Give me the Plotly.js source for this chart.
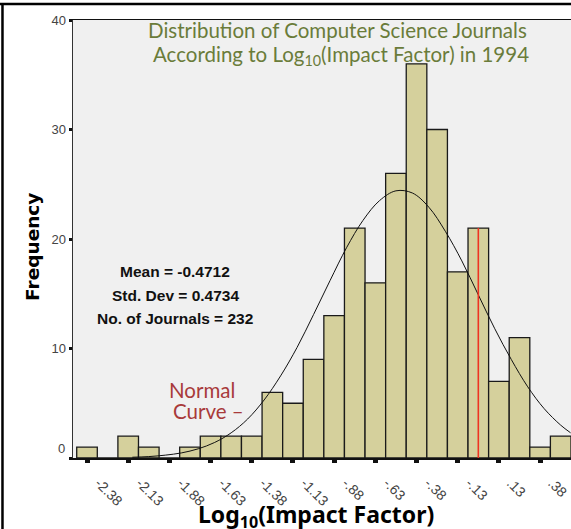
<!DOCTYPE html>
<html>
<head>
<meta charset="utf-8">
<script src="https://cdn.plot.ly/plotly-3.0.1.min.js"></script>
<style>
  html, body { margin: 0; padding: 0; background: #ffffff; }
  #chart { width: 571px; height: 529px; }
</style>
</head>
<body>
<div id="chart"></div>
<script>
// Bin centers (bin width 0.125) of Log10(Impact Factor)
const binCenters = [-2.375, -2.25, -2.125, -2.0, -1.875, -1.75, -1.625, -1.5, -1.375, -1.25, -1.125, -1.0,
                    -0.875, -0.75, -0.625, -0.5, -0.375, -0.25, -0.125, 0.0, 0.125, 0.25, 0.375, 0.5];
// Frequencies (total 232)
const frequencies = [1, 0, 2, 1, 0, 1, 2, 2, 2, 6, 5, 9,
                     13, 21, 16, 26, 36, 30, 17, 21, 7, 11, 1, 2];

// Normal curve
const curveX = [-2.1, -2.0, -1.9, -1.8, -1.7, -1.6, -1.5, -1.4, -1.3, -1.2, -1.1, -1.0, -0.9, -0.8, -0.7,
                -0.6, -0.5, -0.4, -0.3, -0.2, -0.1, 0.0, 0.1, 0.2, 0.3, 0.4, 0.5, 0.56];
const curveY = [0.07, 0.13, 0.26, 0.47, 0.84, 1.42, 2.3, 3.56, 5.3, 7.5, 10.1, 13.1, 16.2, 19.2, 21.7,
                23.5, 24.4, 24.2, 22.9, 20.7, 18.0, 14.9, 11.8, 9.0, 6.5, 4.5, 3.0, 2.3];

// Red marker line
const redLineX = [0, 0];
const redLineY = [0, 21];

// Tick labels
const xTickVals = [-2.375, -2.125, -1.875, -1.625, -1.375, -1.125, -0.875, -0.625, -0.375, -0.125, 0.125, 0.375];
const xTickText = ['-2.38', '-2.13', '-1.88', '-1.63', '-1.38', '-1.13', '-.88', '-.63', '-.38', '-.13', '.13', '.38'];
const yTickVals = [0, 10, 20, 30, 40];
const yTickText = ['', '10', '20', '30', '40'];

const statsLines = ['Mean = -0.4712', 'Std. Dev = 0.4734', 'No. of Journals = 232'];

const traces = [
  {
    type: 'bar',
    x: binCenters,
    y: frequencies,
    width: 0.125,
    marker: { color: '#d5d09c', line: { color: '#1a1a1a', width: 1.3 } },
    hoverinfo: 'x+y'
  },
  {
    type: 'scatter',
    mode: 'lines',
    x: curveX,
    y: curveY,
    line: { color: '#111111', width: 1, shape: 'spline' },
    hoverinfo: 'skip'
  },
  {
    type: 'scatter',
    mode: 'lines',
    x: redLineX,
    y: redLineY,
    line: { color: '#ee3322', width: 1.6 },
    hoverinfo: 'skip'
  }
];

const titleFont = { family: 'Lato, "Open Sans", sans-serif', size: 20.5, color: '#6a7c3a' };
const statFont = { family: '"Liberation Sans", Arial, sans-serif', size: 15.5, color: '#111111', weight: 'bold' };
const redFont = { family: 'Lato, "Open Sans", sans-serif', size: 20.5, color: '#a83a3a' };
const axisTitleFont = { family: '"Noto Sans", sans-serif', size: 23, color: '#000000', weight: 'bold' };

const annotations = [
  { xref: 'paper', yref: 'paper', x: 0.532, y: 0.977, text: 'Distribution of Computer Science Journals',
    showarrow: false, font: titleFont, xanchor: 'center', yanchor: 'middle' },
  { xref: 'paper', yref: 'paper', x: 0.538, y: 0.918, text: 'According to Log<sub>10</sub>(Impact Factor) in 1994',
    showarrow: false, font: titleFont, xanchor: 'center', yanchor: 'middle' },
  { xref: 'paper', yref: 'paper', x: 0.205, y: 0.4247, text: statsLines[0], showarrow: false, font: statFont, xanchor: 'center', yanchor: 'middle' },
  { xref: 'paper', yref: 'paper', x: 0.205, y: 0.372, text: statsLines[1], showarrow: false, font: statFont, xanchor: 'center', yanchor: 'middle' },
  { xref: 'paper', yref: 'paper', x: 0.205, y: 0.3196, text: statsLines[2], showarrow: false, font: statFont, xanchor: 'center', yanchor: 'middle' },
  { xref: 'paper', yref: 'paper', x: 0.259, y: 0.155, text: 'Normal', showarrow: false,
    font: redFont, xanchor: 'center', yanchor: 'middle' },
  { xref: 'paper', yref: 'paper', x: 0.273, y: 0.107, text: 'Curve –', showarrow: false,
    font: redFont, xanchor: 'center', yanchor: 'middle' },
  { xref: 'paper', yref: 'paper', x: 0.488, y: -0.1324, text: 'Log<sub>10</sub>(Impact Factor)', showarrow: false,
    font: axisTitleFont, xanchor: 'center', yanchor: 'middle' },
  { xref: 'paper', yref: 'paper', x: 0.488, y: 1.0355, text: 'Log<sub>10</sub>(Impact Factor)', showarrow: false,
    font: axisTitleFont, xanchor: 'center', yanchor: 'bottom' },
  { xref: 'paper', yref: 'paper', x: -0.0803, y: 0.482, text: 'Frequency', showarrow: false, textangle: -90,
    font: { family: '"DejaVu Sans", sans-serif', size: 18.5, color: '#000000', weight: 'bold' }, xanchor: 'center', yanchor: 'middle' },
  { xref: 'paper', yref: 'y', x: -0.012, y: 0, yshift: 10, text: '0', showarrow: false,
    font: { family: '"Liberation Sans", Arial, sans-serif', size: 13, color: '#444444' }, xanchor: 'right', yanchor: 'middle' }
];

const layout = {
  width: 571,
  height: 529,
  margin: { l: 73, r: 0, t: 20, b: 71, pad: 0 },
  paper_bgcolor: '#ffffff',
  plot_bgcolor: '#f0f0f0',
  showlegend: false,
  bargap: 0,
  xaxis: {
    range: [-2.46, 0.5625],
    tickmode: 'array',
    tickvals: xTickVals,
    ticktext: xTickText,
    tickangle: 45,
    ticks: 'outside',
    ticklen: 3,
    tickwidth: 5,
    tickcolor: '#111111',
    ticklabelshift: 12,
    ticklabelstandoff: 7,
    tickfont: { family: '"Liberation Sans", Arial, sans-serif', size: 14, color: '#444444' },
    showline: true,
    linecolor: '#111111',
    linewidth: 1.5,
    mirror: true,
    showgrid: false,
    zeroline: false,
    fixedrange: true
  },
  yaxis: {
    range: [0, 40],
    tickmode: 'array',
    tickvals: yTickVals,
    ticktext: yTickText,
    ticks: 'outside',
    ticklen: 3,
    tickwidth: 3,
    tickcolor: '#111111',
    tickfont: { family: '"Liberation Sans", Arial, sans-serif', size: 13, color: '#444444' },
    showline: true,
    linecolor: '#333333',
    linewidth: 1.5,
    showgrid: false,
    zeroline: false,
    fixedrange: true
  },
  annotations: annotations,
  shapes: [
    { type: 'line', xref: 'paper', yref: 'paper', x0: -0.1466, x1: 1.0, y0: 1.0365, y1: 1.0365,
      line: { color: '#000000', width: 2.5 } },
    { type: 'line', xref: 'paper', yref: 'paper', x0: -0.1416, x1: -0.1416, y0: 1.0365, y1: -0.17,
      line: { color: '#000000', width: 2.5 } }
  ]
};

Plotly.newPlot('chart', traces, layout, { displayModeBar: false, staticPlot: true });
</script>
</body>
</html>
